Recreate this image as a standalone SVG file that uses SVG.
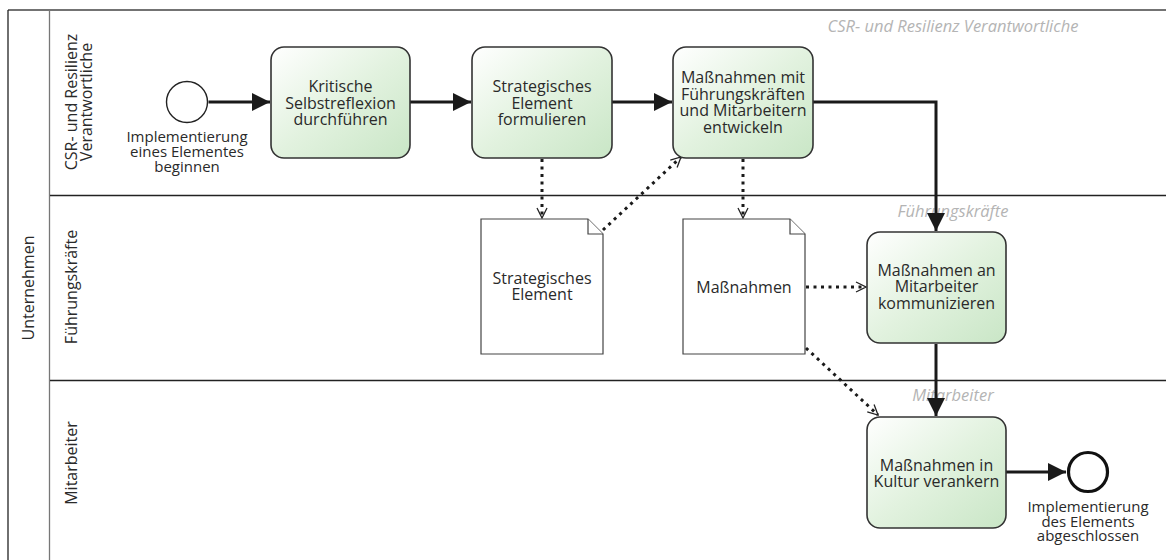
<svg xmlns="http://www.w3.org/2000/svg" width="1166" height="560" viewBox="0 0 1166 560">
<defs>
<linearGradient id="g" x1="0" y1="0" x2="1" y2="1">
<stop offset="0" stop-color="#ffffff"/>
<stop offset="0.5" stop-color="#e2f2df"/>
<stop offset="1" stop-color="#c9e6c6"/>
</linearGradient>
<marker id="seq" viewBox="0 0 10 10" refX="10" refY="5" markerWidth="6.5" markerHeight="6" markerUnits="strokeWidth" orient="auto">
<path d="M0,0 L10,5 L0,10 z" fill="#1a1a1a"/>
</marker>
<marker id="open" viewBox="0 0 12 12" refX="11" refY="6" markerWidth="12" markerHeight="12" markerUnits="userSpaceOnUse" orient="auto">
<path d="M1,1 L11,6 L1,11" fill="none" stroke="#222" stroke-width="1.3"/>
</marker>
</defs>
<style>
.t{font-family:"Open Sans","Noto Sans","Liberation Sans",sans-serif;font-size:16px;fill:#2a2a2a;text-anchor:middle}
.l{font-family:"Open Sans","Noto Sans","Liberation Sans",sans-serif;font-size:15px;fill:#2a2a2a;text-anchor:middle}
.w{font-family:"Open Sans","Noto Sans","Liberation Sans",sans-serif;font-size:16.5px;font-style:italic;fill:#b4b4b4;text-anchor:middle}
.task{fill:url(#g);stroke:#333;stroke-width:1.6}
.doc{fill:#fff;stroke:#444;stroke-width:1.2}
.seq{fill:none;stroke:#1a1a1a;stroke-width:3;marker-end:url(#seq)}
.asc{fill:none;stroke:#1a1a1a;stroke-width:3;stroke-dasharray:3 4.5;marker-end:url(#open)}
.lane{stroke:#222;stroke-width:1.3}
</style>
<rect width="1166" height="560" fill="#fff"/>
<g id="pool">
<line x1="8" y1="10" x2="1166" y2="10" stroke="#444" stroke-width="1.3"/>
<line x1="8" y1="10" x2="8" y2="560" stroke="#222" stroke-width="1.3"/>
<line x1="49.5" y1="10" x2="49.5" y2="560" stroke="#777" stroke-width="1.3"/>
<line class="lane" x1="50" y1="195.5" x2="1166" y2="195.5"/>
<line class="lane" x1="50" y1="380.5" x2="1166" y2="380.5"/>
<text class="t" transform="translate(33.5,288) rotate(-90)">Unternehmen</text>
<text class="t" transform="translate(77,102) rotate(-90)">CSR- und Resilienz</text>
<text class="t" transform="translate(92,102) rotate(-90)">Verantwortliche</text>
<text class="t" transform="translate(77,287) rotate(-90)">Führungskräfte</text>
<text class="t" transform="translate(77,463) rotate(-90)">Mitarbeiter</text>
<text class="w" x="953" y="31.5">CSR- und Resilienz Verantwortliche</text>
<text class="w" x="953" y="217">Führungskräfte</text>
<text class="w" x="953" y="401">Mitarbeiter</text>
</g>
<g id="connectors">
<path class="seq" d="M208.5,102 L270,102"/>
<path class="seq" d="M410,102 L471,102"/>
<path class="seq" d="M612,102 L672,102"/>
<path class="seq" d="M813,102 L936,102 L936,231"/>
<path class="seq" d="M936,344 L936,416"/>
<path class="seq" d="M1006,472 L1066,472"/>
<path class="asc" d="M542,159 L542,218"/>
<path class="asc" d="M603,230 L681,157"/>
<path class="asc" d="M743,159 L743,218"/>
<path class="asc" d="M806,287 L866,287"/>
<path class="asc" d="M806,348 L878,415"/>
</g>
<g id="start">
<circle cx="187" cy="102" r="20.5" fill="#fff" stroke="#222" stroke-width="1.4"/>
<text class="l" x="187" y="142">Implementierung</text>
<text class="l" x="187" y="157">eines Elementes</text>
<text class="l" x="187" y="172">beginnen</text>
</g>
<g id="task1">
<rect class="task" x="271" y="47" width="139" height="111" rx="13"/>
<text class="t" x="340.5" y="92">Kritische</text>
<text class="t" x="340.5" y="108.5">Selbstreflexion</text>
<text class="t" x="340.5" y="125">durchführen</text>
</g>
<g id="task2">
<rect class="task" x="472" y="47" width="140" height="111" rx="13"/>
<text class="t" x="542" y="92">Strategisches</text>
<text class="t" x="542" y="108.5">Element</text>
<text class="t" x="542" y="125">formulieren</text>
</g>
<g id="task3">
<rect class="task" x="673" y="47" width="140" height="111" rx="13"/>
<text class="t" x="743" y="83">Maßnahmen mit</text>
<text class="t" x="743" y="99.5">Führungskräften</text>
<text class="t" x="743" y="116">und Mitarbeitern</text>
<text class="t" x="743" y="132.5">entwickeln</text>
</g>
<g id="doc1">
<path class="doc" d="M481,219 L588,219 L603,234 L603,354 L481,354 Z"/>
<path class="doc" d="M588,219 L588,234 L603,234"/>
<text class="t" x="542" y="283.5">Strategisches</text>
<text class="t" x="542" y="300">Element</text>
</g>
<g id="doc2">
<path class="doc" d="M683,219 L790,219 L805,234 L805,354 L683,354 Z"/>
<path class="doc" d="M790,219 L790,234 L805,234"/>
<text class="t" x="744" y="292.5">Maßnahmen</text>
</g>
<g id="task4">
<rect class="task" x="867" y="232" width="139" height="111" rx="13"/>
<text class="t" x="936.5" y="275.5">Maßnahmen an</text>
<text class="t" x="936.5" y="292">Mitarbeiter</text>
<text class="t" x="936.5" y="308.5">kommunizieren</text>
</g>
<g id="task5">
<rect class="task" x="867" y="417" width="139" height="111" rx="13"/>
<text class="t" x="936.5" y="470.5">Maßnahmen in</text>
<text class="t" x="936.5" y="487">Kultur verankern</text>
</g>
<g id="end">
<circle cx="1088" cy="472" r="19.5" fill="#fff" stroke="#111" stroke-width="3.2"/>
<text class="l" x="1088" y="512">Implementierung</text>
<text class="l" x="1088" y="527">des Elements</text>
<text class="l" x="1088" y="541">abgeschlossen</text>
</g>
</svg>
